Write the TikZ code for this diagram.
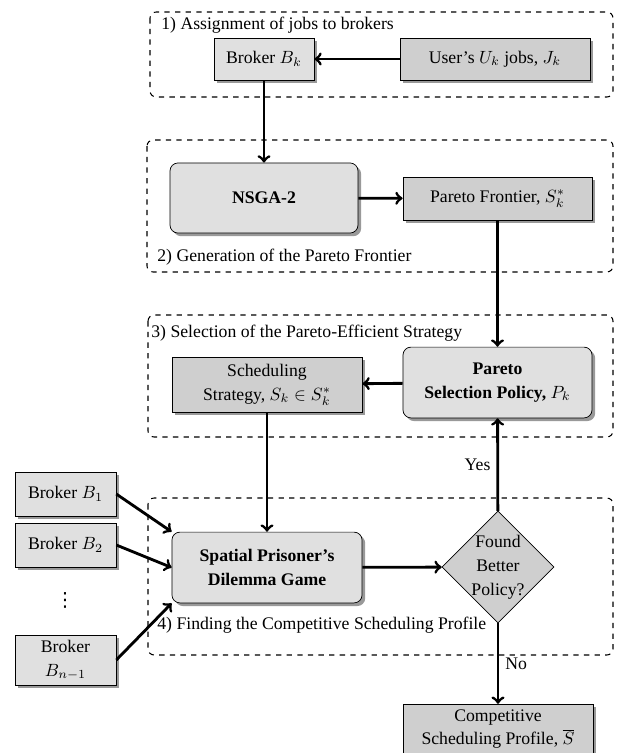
\documentclass[tikz,border=0pt]{standalone}
\usepackage{fontspec}
\setmainfont{Liberation Serif}
\newfontfamily\symfont{DejaVu Sans}
\usetikzlibrary{arrows,shapes.geometric,shadows}
\tikzset{every picture/.style={> = to}}
\tikzset{
  plainbox/.style={draw, fill=black!12, align=center, inner sep=0pt,
    font=\fontsize{10}{13.5}\selectfont,
    drop shadow={shadow xshift=1.8pt, shadow yshift=-1.8pt, fill=black!40, opacity=1}},
  darkbox/.style={plainbox, fill=black!19},
  roundbox/.style={plainbox, rounded corners=4.5pt, font=\fontsize{10}{13.5}\selectfont\bfseries},
  decision/.style={draw, diamond, aspect=1, fill=black!19, align=center, inner sep=-1.5pt,
    minimum size=63.3pt, font=\fontsize{10}{13.5}\selectfont},
  stage/.style={draw, dashed, rounded corners=3.5pt, line width=0.6pt},
  flow/.style={-to, line width=1.6pt}
}

\begin{document}
\begin{tikzpicture}[x=0.565pt,y=-0.565pt]
    \useasboundingbox (0,0) rectangle (617,753);
    % stages
    \draw[stage] (150,12) rectangle (613,97);
    \draw[stage] (147,140) rectangle (613,272);
    \draw[stage] (148,315) rectangle (613,437);
    \draw[stage] (148,498) rectangle (613,655);
    \node[anchor=west, inner sep=0pt] (lbl1) at (161,25) {1) Assignment of jobs to brokers};
    \node[anchor=west, inner sep=0pt] (lbl2) at (157,257) {2) Generation of the Pareto Frontier};
    \node[anchor=west, inner sep=0pt] (lbl3) at (151,333) {3) Selection of the Pareto-Efficient Strategy};
    \node[anchor=west, inner sep=0pt] (lbl4) at (157,625) {4) Finding the Competitive Scheduling Profile};

    \node[plainbox, minimum width=56.5pt, minimum height=23.7pt] (broker) at (264,59) {Broker $B_k$};
    \node[darkbox, minimum width=107.4pt, minimum height=23.7pt] (jobs) at (495,59) {User's $U_k$ jobs, $J_k$};
    \node[roundbox, minimum width=106.2pt, minimum height=39.6pt] (nsga) at (264,198) {NSGA-2};
    \node[darkbox, minimum width=106.8pt, minimum height=24.3pt] (frontier) at (497.5,198.5) {Pareto Frontier, $S_k^*$};
    \node[darkbox, minimum width=107.4pt, minimum height=31pt] (strategy) at (267,384.5) {Scheduling\\Strategy, $S_k \in S_k^*$};
    \node[roundbox, minimum width=106.8pt, minimum height=40pt] (policy) at (497.5,382.5) {Pareto\\Selection Policy, $P_k$};
    \node[plainbox, minimum width=57pt, minimum height=24.9pt] (b1) at (65.5,494) {Broker $B_1$};
    \node[plainbox, minimum width=57pt, minimum height=24.9pt] (b2) at (65.5,545) {Broker $B_2$};
    \node (dots) at (65,600) {\symfont\fontsize{11}{11}\selectfont ⋮};
    \node[plainbox, minimum width=57pt, minimum height=28.2pt] (bn) at (65.5,660) {Broker\\$B_{n-1}$};
    \node[roundbox, minimum width=107.4pt, minimum height=40pt] (game) at (267,567.5) {Spatial Prisoner's\\Dilemma Game};
    \node[decision] (better) at (498,567) {Found\\Better\\Policy?};
    \node[darkbox, minimum width=107.4pt, minimum height=28pt] (profile) at (498,729) {Competitive\\Scheduling Profile, $\overline{S}$};

    \draw[flow] (jobs) to (broker);
    \draw[flow] (broker) to (nsga);
    \draw[flow] (nsga) to (frontier);
    \draw[flow] (frontier) to (policy);
    \draw[flow] (policy) to (strategy);
    \draw[flow] (strategy) to (game);
    \draw[flow] (b1.east) to (game.north west);
    \draw[flow] (b2.east) to (game.west);
    \draw[flow] (bn.east) to (game.south west);
    \draw[flow] (game) to (better);
    \draw[flow] (better) to node[left] {Yes} (policy);
    \draw[flow] (better) to node[right] {No} (profile);
  \end{tikzpicture}
\end{document}
